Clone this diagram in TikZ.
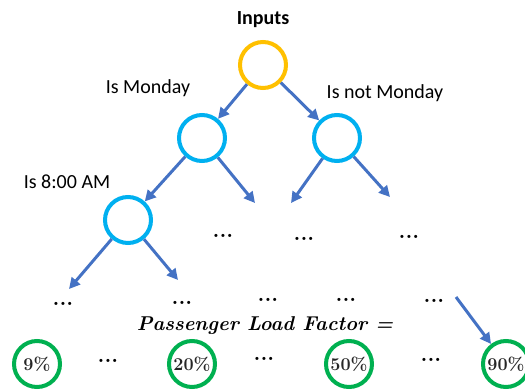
\documentclass[tikz,border=0pt]{standalone}
\usepackage{fontspec}
\setsansfont{Carlito}
\usepackage{amsmath}
\usepackage{tikz}
\usetikzlibrary{arrows.meta}
\definecolor{rootorange}{HTML}{FFC000}
\definecolor{nodecyan}{HTML}{00B0F0}
\definecolor{arrowblue}{HTML}{4472C4}
\definecolor{leafgreen}{HTML}{00B050}

\begin{document}
\begin{tikzpicture}[x=1pt, y=-1pt,
    decision/.style={circle, draw=nodecyan, line width=4pt, minimum size=46pt, inner sep=0pt},
    leaf/.style={circle, draw=leafgreen, line width=4pt, minimum size=46pt, inner sep=0pt,
        font=\fontsize{18}{18}\selectfont\bfseries, text=black!85},
    branch/.style={draw=arrowblue, line width=3pt, -{Triangle[length=11pt,width=11pt]}},
    cond/.style={font=\sffamily\fontsize{20}{20}\selectfont},
    formula/.style={font=\fontsize{20}{20}\selectfont\bfseries\itshape},
    more/.style={font=\fontsize{22}{22}\selectfont\bfseries}]
                \useasboundingbox (0,0) rectangle (525,390);

                % Root and decision nodes
                \node[cond] (inputslabel) at (263,20) {\bfseries Inputs};
                \node[decision, draw=rootorange] (inputs) at (263,65) {};
                \node[decision] (monday) at (202,138) {};
                \node[decision] (notmonday) at (337,138) {};
                \node[decision] (eight) at (128,220) {};

                % Conditions
                \node[cond] (mondaylabel) at (148,88) {Is Monday};
                \node[cond] (notmondaylabel) at (385,93) {Is not Monday};
                \node[cond] (eightlabel) at (67,182) {Is 8:00 AM};

                % Open ends of branches
                \coordinate (mondayend) at (255,203);
                \coordinate (notmondayendl) at (291,203);
                \coordinate (notmondayendr) at (390,197);
                \coordinate (eightendl) at (69,289);
                \coordinate (eightendr) at (178,280);
                \coordinate (lastbranch) at (456,297);

                % Outputs
                \node[formula] (loadfactor) at (265,326) {Passenger Load Factor =};
                \node[leaf] (p9) at (37,364) {9\%};
                \node[leaf] (p20) at (192,364) {20\%};
                \node[leaf] (p50) at (349,364) {50\%};
                \node[leaf] (p90) at (506,364) {90\%};

                % Branches
                \draw[branch] (inputs) -- (monday);
                \draw[branch] (inputs) -- (notmonday);
                \draw[branch] (monday) -- (eight);
                \draw[branch] (monday) -- (mondayend);
                \draw[branch] (notmonday) -- (notmondayendl);
                \draw[branch] (notmonday) -- (notmondayendr);
                \draw[branch] (eight) -- (eightendl);
                \draw[branch] (eight) -- (eightendr);
                \draw[branch] (lastbranch) -- (p90);

                % Dots
                \foreach \pos [count=\i] in {(223,236), (304,239), (409,237),
                        (63,304), (182,303), (268,300), (346,300), (434,301),
                        (108,361), (264,359), (431,360)}
                    \node[more] (dots\i) at \pos {...};
            \end{tikzpicture}
\end{document}
